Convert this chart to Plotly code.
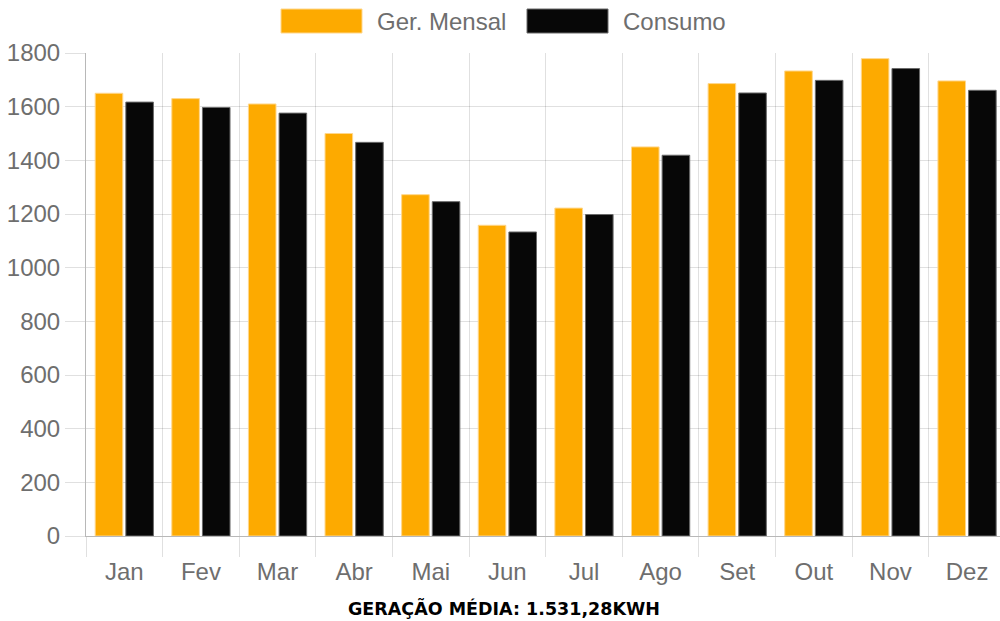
import plotly.graph_objects as go

months = ["Jan", "Fev", "Mar", "Abr", "Mai", "Jun", "Jul", "Ago", "Set", "Out", "Nov", "Dez"]
ger_mensal = [1650, 1630, 1610, 1500, 1272, 1158, 1222, 1450, 1686, 1733, 1779, 1696]
consumo = [1617, 1597, 1576, 1467, 1246, 1133, 1198, 1419, 1651, 1698, 1742, 1661]
y_ticks = [0, 200, 400, 600, 800, 1000, 1200, 1400, 1600, 1800]
series_names = ["Ger. Mensal", "Consumo"]
footer_text = "GERAÇÃO MÉDIA: 1.531,28KWH"

ORANGE = "#FDAA00"
BLACK = "#070707"
GREY_TXT = "#6e6e6e"
GRID = "rgba(0,0,0,0.12)"
AXIS = "rgba(0,0,0,0.28)"
FONT = "Liberation Sans, Arial, Helvetica, sans-serif"

fig = go.Figure()
fig.add_trace(go.Bar(x=months, y=ger_mensal, name=series_names[0],
                     marker=dict(color=ORANGE, line=dict(color="rgba(255,215,140,1)", width=1))))
fig.add_trace(go.Bar(x=months, y=consumo, name=series_names[1],
                     marker=dict(color=BLACK, line=dict(color="#6a6a6a", width=1))))

W, H = 1000, 621
ml, mr, mt, mb = 86, 0, 53, 85

fig.update_layout(
    width=W, height=H,
    margin=dict(l=ml, r=mr, t=mt, b=mb),
    paper_bgcolor="white", plot_bgcolor="white",
    barmode="group", bargap=0.2, bargroupgap=0.1,
    showlegend=False,
    font=dict(family=FONT, size=24, color=GREY_TXT),
    xaxis=dict(
        type="category", range=[-0.5, 11.43],
        tickson="boundaries", ticks="outside", ticklen=20, tickcolor=GRID, tickwidth=1,
        showgrid=True, gridcolor=GRID, gridwidth=1,
        showline=True, linecolor=AXIS, linewidth=1,
        ticklabelstandoff=14,
        tickfont=dict(family=FONT, size=24, color=GREY_TXT),
    ),
    yaxis=dict(
        range=[0, 1800], tickvals=y_ticks, ticktext=[str(v) for v in y_ticks],
        ticks="outside", ticklen=20, tickcolor=GRID, tickwidth=1,
        showgrid=True, gridcolor=GRID, gridwidth=1, zeroline=False,
        showline=True, linecolor=AXIS, linewidth=1,
        tickfont=dict(family=FONT, size=24, color=GREY_TXT),
    ),
)

# custom legend (wide swatches like the reference)
pw = W - ml - mr
ph = H - mt - mb
def px_x(x):
    return (x - ml) / pw
def px_y(y):
    return (H - mb - y) / ph

legend_items = [(281, 362, series_names[0], ORANGE, "rgba(255,215,140,1)"),
                (527, 608, series_names[1], BLACK, "#6a6a6a")]
for x0, x1, name, col, lc in legend_items:
    fig.add_shape(type="rect", xref="paper", yref="paper",
                  x0=px_x(x0), x1=px_x(x1), y0=px_y(33), y1=px_y(9),
                  fillcolor=col, line=dict(color=lc, width=1))
    fig.add_annotation(xref="paper", yref="paper", x=px_x(x1 + 13), y=px_y(21),
                       xanchor="left", yanchor="middle", showarrow=False,
                       text=name, font=dict(family=FONT, size=24, color=GREY_TXT))

fig.add_annotation(xref="paper", yref="paper", x=px_x(504), y=px_y(608),
                   xanchor="center", yanchor="middle", showarrow=False,
                   text="<b>" + footer_text + "</b>",
                   font=dict(family="DejaVu Sans", size=17.5, color="#000000"))

fig.write_html("out.html", config={"displayModeBar": False},
               post_script="document.body.style.margin='0';document.body.style.overflow='hidden';")
